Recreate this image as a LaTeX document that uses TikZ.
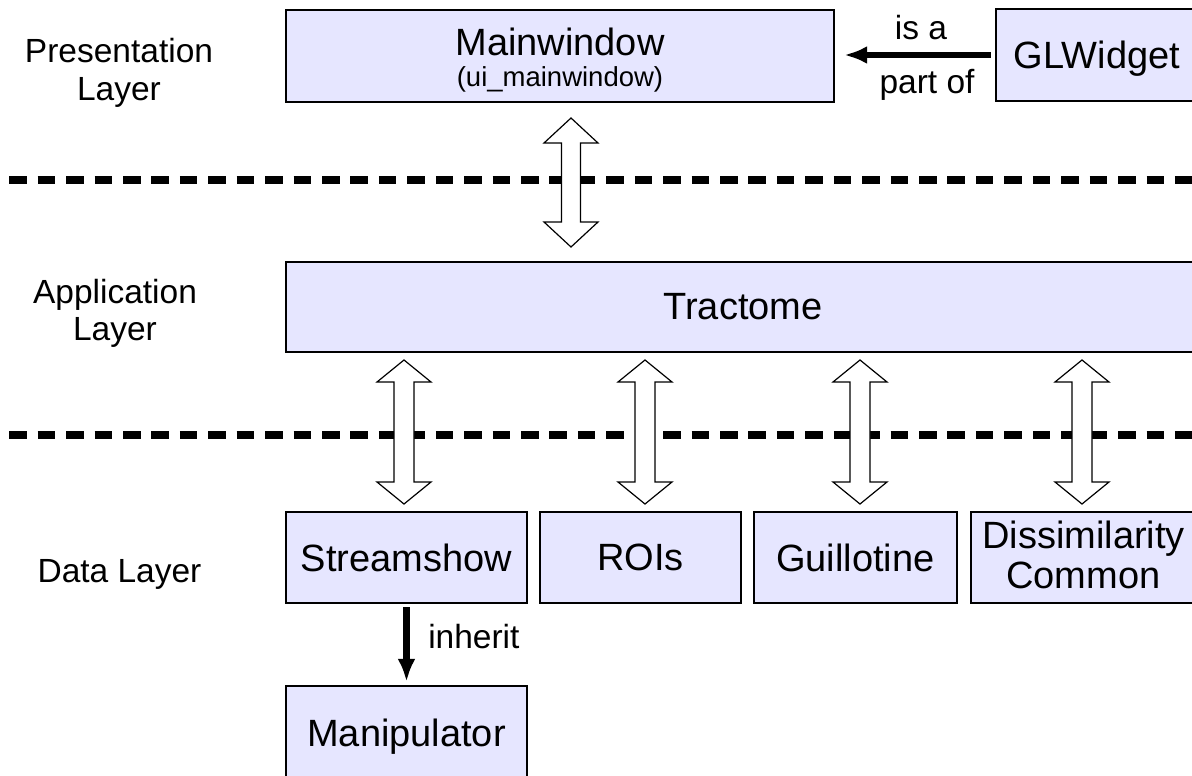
\documentclass[tikz,border=0pt]{standalone}
\usepackage{fontspec}
\setmainfont{Liberation Sans}
\usetikzlibrary{arrows.meta,calc}
\definecolor{boxfill}{RGB}{230,230,255}
% #1 top tip, #2 bottom tip, #3 head length, #4 half shaft width
\newcommand\fatarrow[4]{%
  \draw[fatarr] (#1) -- ++(27,#3) -- ++({-27+#4},0) -- ($(#2)+(#4,-#3)$)
    -- ++({27-#4},0) -- (#2) -- ++(-27,-#3) -- ++({27-#4},0)
    -- ($(#1)+(-#4,#3)$) -- ++({-27+#4},0) -- cycle;}
\begin{document}
\begin{tikzpicture}[x=1pt,y=-1pt,
  box/.style={draw=black, line width=2.4pt, fill=boxfill, inner sep=0pt, align=center,
    font=\fontsize{38}{44}\selectfont},
  lbl/.style={font=\fontsize{33.5}{37.5}\selectfont, align=center, inner sep=0pt},
  fatarr/.style={draw=black, line width=1.2pt, fill=white, line join=miter},
  sepline/.style={line width=8pt, dash pattern=on 17.5pt off 10.93pt},
  bigarrow/.style={line width=6.5pt, -{Latex[length=23pt,width=18pt]}}]
\useasboundingbox (0,0) rectangle (1192,776);

% layer separators
\draw[sepline] (9.3,180) -- (1200,180);
\draw[sepline] (9.3,435) -- (1200,435);

% layer labels
\node[lbl] (lpres) at (119,72.8) {Presentation\\Layer};
\node[lbl] (lapp) at (115,313.3) {Application\\Layer};
\node[lbl] (ldata) at (119.5,574.5) {Data Layer};

% boxes
\node[box, minimum width=548pt, minimum height=92pt] (main) at (560,56)
  {\rule{0pt}{36pt}Mainwindow\\[-13pt]{\fontsize{27.5}{30}\selectfont(ui\_mainwindow)}};
\node[box, minimum width=202pt, minimum height=92pt, text depth=0pt] (glw) at (1097,55) {GLWidget};
\node[box, minimum width=914pt, minimum height=90pt] (trac) at (743,307) {Tractome};
\node[box, minimum width=241pt, minimum height=91pt] (stream) at (406.5,557.5) {Streamshow};
\node[box, minimum width=201pt, minimum height=91pt] (rois) at (640.5,557.5) {ROIs};
\node[box, minimum width=203pt, minimum height=91pt] (guil) at (855.5,557.5) {Guillotine};
\node[box, minimum width=225pt, minimum height=91pt] (diss) at (1083.5,557.5)
  {Dissimilarity\\[-4pt]Common\rule[-6pt]{0pt}{6pt}};
\node[box, minimum width=241pt, minimum height=94pt, text depth=0pt] (manip) at (406.5,733) {Manipulator};

% connectors
\draw[bigarrow, shorten <=4pt, shorten >=9pt] (glw.west) --
  node[lbl, anchor=base, xshift=6pt, yshift=15pt] (isa) {is a}
  node[lbl, anchor=base, xshift=12pt, yshift=-39pt] (partof) {part of}
  (glw.west -| main.east);
\draw[bigarrow, shorten <=3pt, shorten >=3pt] (stream.south) --
  node[lbl, anchor=base west, xshift=18.5pt, yshift=-3.5pt] (inh) {inherit}
  (manip.north);

% double arrows between layers
\coordinate (t0) at (571,118); \coordinate (b0) at (571,247);
\coordinate (t1) at (404,360); \coordinate (b1) at (404,504);
\coordinate (t2) at (645,360); \coordinate (b2) at (645,504);
\coordinate (t3) at (860,360); \coordinate (b3) at (860,504);
\coordinate (t4) at (1082,360); \coordinate (b4) at (1082,504);
\fatarrow{t0}{b0}{25}{9.5}
\fatarrow{t1}{b1}{22}{10}
\fatarrow{t2}{b2}{22}{10}
\fatarrow{t3}{b3}{22}{10}
\fatarrow{t4}{b4}{22}{10}
\end{tikzpicture}
\end{document}
